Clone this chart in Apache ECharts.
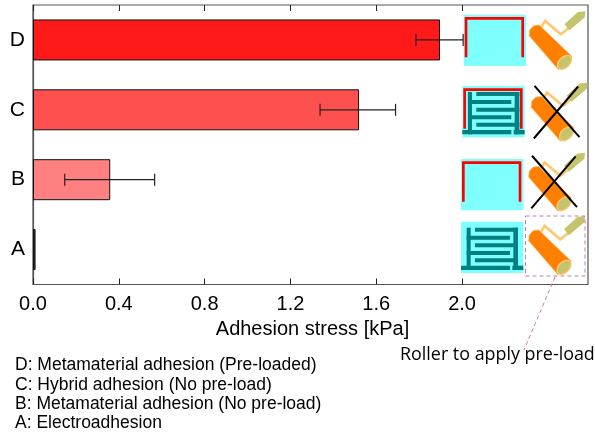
<!DOCTYPE html>
<html><head><meta charset="utf-8">
<style>html,body{margin:0;padding:0;background:#fff}#c{width:595px;height:437px}</style>
<script src="https://cdn.jsdelivr.net/npm/echarts@6/dist/echarts.min.js"></script>
</head><body><div id="c"></div>
<script>
const categories = ['A', 'B', 'C', 'D'];
const stress = [0.012, 0.36, 1.52, 1.897];
const errLow = [null, 0.148, 1.338, 1.785];
const errHigh = [null, 0.567, 1.69, 2.005];
const barColors = ['#333333', '#ff8080', '#ff5050', '#ff1a1a'];
const tickValues = [0, 0.4, 0.8, 1.2, 1.6, 2.0];
const legendLines = [
  'D: Metamaterial adhesion (Pre-loaded)',
  'C: Hybrid adhesion (No pre-load)',
  'B: Metamaterial adhesion (No pre-load)',
  'A: Electroadhesion'
];
const xTitle = 'Adhesion stress [kPa]';
const rollerNote = 'Roller to apply pre-load';

const CYAN = '#80ffff', TEAL = '#008080', RED = '#ff0000';
function rect(x, y, w, h, fill) { return {type:'rect', shape:{x, y, width:w, height:h}, style:{fill}}; }
function electrode(x, y, comb, frame) {
  const ch = [rect(18, 20, 187, 154, CYAN)];
  if (comb) {
    [[35,38,12,127],[175,38,14,127],[18,152,147,13],[172,152,33,13],
     [60,38,129,12],[60,85,129,12],[60,130,129,12],
     [35,62,130,12],[35,108,130,12]].forEach(r => ch.push(rect(r[0], r[1], r[2], r[3], TEAL)));
  }
  if (frame) {
    ch.push({type:'polyline', shape:{points:[[25,148],[25,31],[195,31],[195,148]]},
      style:{stroke:RED, lineWidth:8, fill:null}});
  }
  return {type:'group', x, y, scaleX:1/3, scaleY:1/3, z:1, children:ch};
}
function roller(x, y, crossed) {
  const ch = [
    {type:'polyline', shape:{points:[[55,62],[68,42],[115,82],[140,62]]},
      style:{stroke:'#ffc870', lineWidth:8, fill:null}},
    {type:'polygon', shape:{points:[[126,52],[166,15],[189,13],[187,31],[141,70]]},
      style:{fill:'#c4c46c'}},
    {type:'polygon', shape:{points:[[20,86],[22,68],[34,56],[50,54],[148,148],[108,188]]},
      style:{fill:'#ff8000', stroke:'#ffb050', lineWidth:2}},
    {type:'ellipse', shape:{cx:0, cy:0, rx:25, ry:16}, x:126, y:166, rotation:0.78,
      style:{fill:'#c4c46c', stroke:'#ffc870', lineWidth:4}}
  ];
  if (crossed) {
    ch.push({type:'line', shape:{x1:30, y1:22, x2:165, y2:176}, style:{stroke:'#000', lineWidth:6}});
    ch.push({type:'line', shape:{x1:28, y1:180, x2:161, y2:24}, style:{stroke:'#000', lineWidth:6}});
  }
  return {type:'group', x, y, scaleX:1/3, scaleY:1/3, z:1, children:ch};
}

const graphics = [
  electrode(457.7, 8, false, true),
  electrode(456.3, 79.3, true, true),
  electrode(455, 152.3, false, true),
  electrode(455, 215, true, false),
  roller(522.5, 7, false),
  roller(524.5, 78.5, true),
  roller(522, 148.4, true),
  roller(522, 212, false),
  {type:'rect', z:1, shape:{x:525.5, y:216, width:59.5, height:60},
    style:{fill:null, stroke:'#c878b0', lineWidth:1, lineDash:[4,3]}},
  {type:'line', z:1, shape:{x1:555, y1:277, x2:524, y2:350},
    style:{stroke:'#c878b0', lineWidth:1, lineDash:[4,3]}},
  {type:'text', z:2, x:400, y:355, style:{text:rollerNote, fill:'#000', font:'17.9px "Open Sans"', textVerticalAlign:'middle'}}
];
const legendY = [365, 385, 404, 423];
legendLines.forEach((t, i) => graphics.push({type:'text', z:2, x:15, y:legendY[i],
  style:{text:t, fill:'#000', font:'17.5px "Liberation Sans"', textVerticalAlign:'middle'}}));

const chart = echarts.init(document.getElementById('c'), null, {renderer:'canvas'});
const axisCommon = {
  type:'value', min:0, max:2.587,
  splitLine:{show:false},
  axisLine:{show:false}
};
chart.setOption({
  animation:false,
  grid:{left:33, right:7, top:5, bottom:152.5, show:true, borderColor:'#555', borderWidth:1.2, backgroundColor:'transparent'},
  xAxis:[
    Object.assign({}, axisCommon, {
      position:'bottom',
      name:xTitle, nameLocation:'middle', nameGap:28,
      nameTextStyle:{fontFamily:'Liberation Sans', fontSize:20, color:'#000', padding:[0,0,0,4]},
      axisTick:{show:true, inside:true, length:6, customValues:tickValues, lineStyle:{color:'#222', width:1}},
      axisLabel:{show:true, margin:10, fontFamily:'Liberation Sans', fontSize:20, color:'#000',
        customValues:tickValues, formatter:v => v.toFixed(1)}
    }),
    Object.assign({}, axisCommon, {
      position:'top',
      axisTick:{show:true, inside:true, length:6, customValues:tickValues, lineStyle:{color:'#222', width:1}},
      axisLabel:{show:false}
    })
  ],
  yAxis:{
    type:'category', data:categories,
    axisTick:{show:false},
    axisLine:{show:true, lineStyle:{color:'#555', width:1.2}},
    axisLabel:{margin:8, fontFamily:'Liberation Sans', fontSize:21, color:'#000'}
  },
  series:[
    {
      type:'bar', barWidth:41, z:2,
      data:stress.map((v, i) => ({value:v, itemStyle:{color:barColors[i], borderColor:'#111', borderWidth:1}}))
    },
    {
      type:'custom', z:3, clip:false,
      data:categories.map((c, i) => [i, errLow[i], errHigh[i]]).filter(d => d[1] !== null),
      encode:{x:[1, 2], y:0},
      renderItem(params, api) {
        const cat = api.value(0);
        const a = api.coord([api.value(1), cat]);
        const b = api.coord([api.value(2), cat]);
        const cap = 6;
        const st = {stroke:'#222', lineWidth:1.2, fill:null};
        return {type:'group', children:[
          {type:'line', shape:{x1:a[0], y1:a[1], x2:b[0], y2:b[1]}, style:st},
          {type:'line', shape:{x1:a[0], y1:a[1]-cap, x2:a[0], y2:a[1]+cap}, style:st},
          {type:'line', shape:{x1:b[0], y1:b[1]-cap, x2:b[0], y2:b[1]+cap}, style:st}
        ]};
      }
    }
  ],
  graphic:graphics
});
</script></body></html>
